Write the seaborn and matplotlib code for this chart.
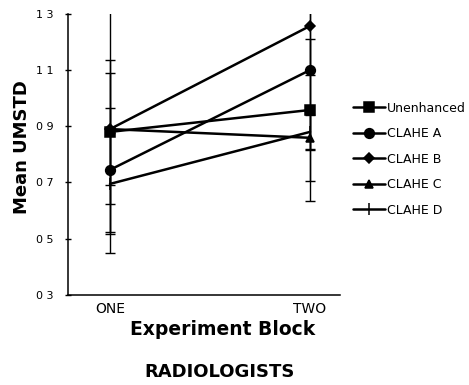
import matplotlib
matplotlib.use("Agg")
import matplotlib.pyplot as plt
import pandas as pd
import seaborn as sns

# Mean UMSTD per experiment block for each image treatment
blocks = ["ONE", "TWO"]
series = ["Unenhanced", "CLAHE A", "CLAHE B", "CLAHE C", "CLAHE D"]
means_one = [0.88, 0.745, 0.89, 0.89, 0.695]
means_two = [0.958, 1.10, 1.257, 0.859, 0.88]
err_one = [0.255, 0.22, 0.44, 0.20, 0.18]
err_two = [0.253, 0.284, 0.16, 0.224, 0.06]
y_ticks = [0.3, 0.5, 0.7, 0.9, 1.1, 1.3]
y_tick_labels = ["0 3", "0 5", "0 7", "0 9", "1 1", "1 3"]

sns.set_style("ticks")
plt.rcParams["font.family"] = ["DejaVu Sans"]
plt.rcParams["text.color"] = "black"
plt.rcParams["axes.labelcolor"] = "black"
plt.rcParams["xtick.color"] = "black"
plt.rcParams["ytick.color"] = "black"
plt.rcParams["axes.edgecolor"] = "black"

rows = []
for s, m1, m2, e1, e2 in zip(series, means_one, means_two, err_one, err_two):
    rows.append({"block": 0, "series": s, "value": m1, "err": e1})
    rows.append({"block": 1, "series": s, "value": m2, "err": e2})
df = pd.DataFrame(rows)

fig = plt.figure(figsize=(4.69, 3.85), dpi=100)
ax = fig.add_axes([0.145, 0.234, 0.58, 0.730])

marker_map = {"Unenhanced": "s", "CLAHE A": "o", "CLAHE B": "D",
              "CLAHE C": "^", "CLAHE D": "|"}
size_map = {"Unenhanced": 9, "CLAHE A": 8.5, "CLAHE B": 6.5,
            "CLAHE C": 7.5, "CLAHE D": 9}
legend_size = {"Unenhanced": 6.5, "CLAHE A": 7, "CLAHE B": 5,
               "CLAHE C": 6, "CLAHE D": 8}

# vertical error bars, drawn first so the markers sit on top
ax.errorbar(df["block"], df["value"], yerr=df["err"], fmt="none",
            ecolor="black", elinewidth=1.0, capsize=3.5, capthick=1.0, zorder=1)

for s in series:
    sub = df[df["series"] == s]
    sns.lineplot(data=sub, x="block", y="value", color="black",
                 marker=marker_map[s], markersize=size_map[s],
                 markeredgecolor="black", markerfacecolor="black",
                 markeredgewidth=1.1, linewidth=0.9, label=s, ax=ax,
                 zorder=3)

handles, labels = ax.get_legend_handles_labels()
for h, l in zip(handles, labels):
    h.set_linewidth(1.8)
    h.set_markersize(legend_size[l])
ax.legend(handles, labels,
          loc="upper left", bbox_to_anchor=(0.739, 0.752),
          bbox_transform=fig.transFigure, frameon=False,
          fontsize=9, handlelength=2.6, handletextpad=0.15,
          labelspacing=1.0, borderpad=0)

ax.set_xlim(-0.21, 1.15)
ax.set_ylim(0.3, 1.3)
ax.set_xticks([0, 1])
ax.set_xticklabels(blocks, fontsize=10)
ax.tick_params(axis="x", length=0, pad=5)
ax.set_yticks(y_ticks)
ax.set_yticklabels(y_tick_labels, fontsize=8)
ax.tick_params(axis="y", direction="inout", length=5, width=1, pad=8)
for side in ("top", "right"):
    ax.spines[side].set_visible(False)
for side in ("left", "bottom"):
    ax.spines[side].set_linewidth(1.1)

ax.set_xlabel("Experiment Block", fontsize=13.5, fontweight="bold")
ax.xaxis.set_label_coords(0.57, -0.09)
ax.set_ylabel("Mean UMSTD", fontsize=13, fontweight="bold")
ax.yaxis.set_label_coords(-0.135, 0.525)

fig.text(0.468, 0.034, "RADIOLOGISTS", ha="center", va="center",
         fontsize=13, fontweight="bold")

fig.savefig("out.png", dpi=100)
